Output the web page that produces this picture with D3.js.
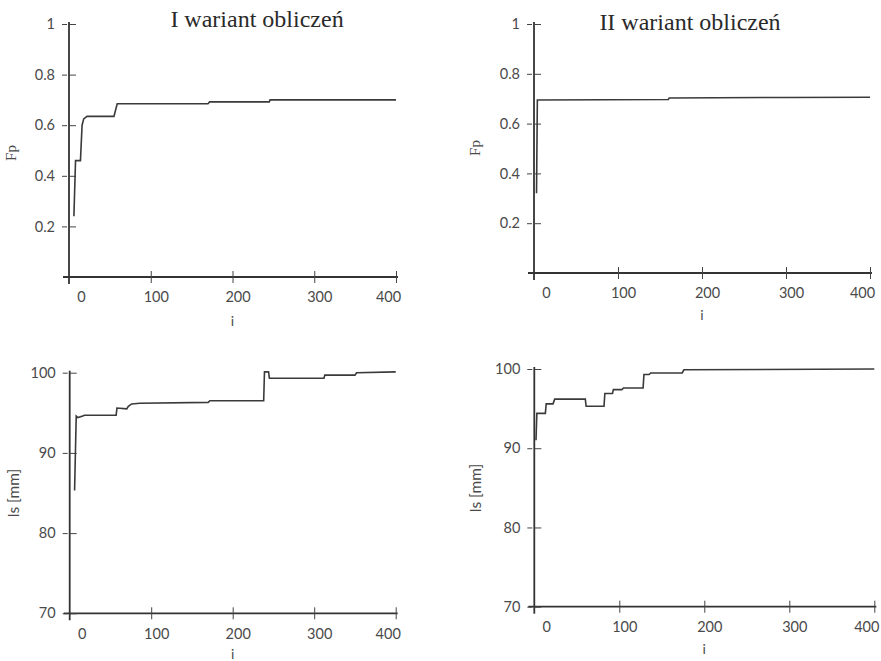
<!DOCTYPE html>
<html>
<head>
<meta charset="utf-8">
<script src="https://cdn.jsdelivr.net/npm/d3@7"></script>
<style>
  body { margin: 0; background: #fff; }
  text { font-family: Lato, "Open Sans", sans-serif; fill: #4a4a4a; }
  .title { font-family: "Liberation Serif", "Times New Roman", serif; fill: #2a2a2a; }
  .serif { font-family: "Liberation Serif", "Times New Roman", serif; }
</style>
</head>
<body>
<script>
// data: [i, value]
var fp1 = [[6, 0.24], [8, 0.46], [14, 0.46], [16, 0.60], [18, 0.625], [22, 0.635], [55, 0.635],
           [57, 0.66], [59, 0.685], [170, 0.685], [172, 0.692], [245, 0.692], [246, 0.70], [400, 0.70]];
var fp2 = [[3, 0.32], [4, 0.695], [160, 0.697], [161, 0.703], [300, 0.705], [400, 0.706]];
var ls1 = [[6, 85.3], [8, 94.6], [10, 94.4], [16, 94.6], [18, 94.7], [57, 94.7], [58, 95.6], [70, 95.5],
           [72, 95.8], [76, 96.1], [86, 96.2], [170, 96.3], [172, 96.5], [238, 96.5], [239, 100.1],
           [244, 100.1], [245, 99.3], [312, 99.3], [313, 99.7], [350, 99.7], [352, 100.0], [400, 100.1]];
var ls2 = [[2, 91.0], [3, 94.4], [13, 94.4], [14, 95.6], [22, 95.6], [24, 96.2], [60, 96.2], [61, 95.3],
           [82, 95.3], [83, 96.9], [92, 96.9], [93, 97.4], [103, 97.4], [105, 97.6], [128, 97.6],
           [129, 99.3], [135, 99.3], [137, 99.5], [174, 99.5], [176, 99.9], [400, 100.0]];

var xTicks = [0, 100, 200, 300, 400];
var fpTicks = [0.2, 0.4, 0.6, 0.8, 1];
var lsTicks = [70, 80, 90, 100];
var titles = ["I wariant obliczeń", "II wariant obliczeń"];

var w = 881, h = 661;

var svg = d3.select("body").append("svg")
    .attr("width", w)
    .attr("height", h);

// panel layout (pixels)
var panels = [
  { data: fp1, yDom: [0, 1], yTicks: fpTicks, yLab: "Fp", serif: true, l: 69, r: 396, b: 277, t: 24,
    labX: 13, labY: 153, iY: 322, title: titles[0], titleX: 257, titleY: 27 },
  { data: fp2, yDom: [0, 1], yTicks: fpTicks, yLab: "Fp", serif: true, l: 534, r: 870, b: 273, t: 24,
    labX: 477, labY: 148, iY: 316, title: titles[1], titleX: 690, titleY: 30 },
  { data: ls1, yDom: [70, 100], yTicks: lsTicks, yLab: "ls [mm]", l: 69.7, r: 395.7, b: 613.3, t: 372.7,
    labX: 15, labY: 493, iY: 655 },
  { data: ls2, yDom: [70, 100], yTicks: lsTicks, yLab: "ls [mm]", l: 534.3, r: 874.3, b: 606.7, t: 369,
    labX: 477, labY: 488, iY: 650 }
];

panels.forEach(function(p) {
  var x = d3.scaleLinear().domain([0, 400]).range([p.l, p.r]);
  var y = d3.scaleLinear().domain(p.yDom).range([p.b, p.t]);
  var g = svg.append("g");

  // axis lines
  g.append("line").attr("x1", p.l).attr("x2", p.l).attr("y1", p.t - 2).attr("y2", p.b + 7)
      .attr("stroke", "#333").attr("stroke-width", 1.8);
  g.append("line").attr("x1", p.l - 6).attr("x2", p.r + 2).attr("y1", p.b).attr("y2", p.b)
      .attr("stroke", "#333").attr("stroke-width", 1.8);

  // x axis: ticks cross the line
  var xa = g.append("g").attr("transform", "translate(0," + p.b + ")")
      .call(d3.axisBottom(x).tickValues(xTicks).tickSize(6).tickPadding(9));
  xa.select(".domain").remove();
  xa.selectAll(".tick line").attr("y1", -6).attr("y2", 6).attr("stroke", "#444")
      .attr("opacity", function(d) { return d === 0 ? 0 : 1; });
  xa.selectAll(".tick text").style("font-size", "14.5px").attr("fill", "#4a4a4a")
      .attr("dx", function(d, i) { return i === 0 ? 12 : (i === xTicks.length - 1 ? -8 : 5); });

  // y axis
  var ya = g.append("g").attr("transform", "translate(" + p.l + ",0)")
      .call(d3.axisLeft(y).tickValues(p.yTicks).tickSize(6).tickPadding(8)
        .tickFormat(function(d) { return String(d); }));
  ya.select(".domain").remove();
  ya.selectAll(".tick line").attr("x1", -7).attr("x2", 7).attr("stroke", "#444")
      .attr("stroke-dasharray", "5,2,7");
  ya.selectAll(".tick text").style("font-size", "14.5px").attr("fill", "#4a4a4a");

  // series
  var line = d3.line()
      .x(function(d) { return x(d[0]); })
      .y(function(d) { return y(d[1]); });
  g.append("path").datum(p.data)
      .attr("d", line)
      .attr("fill", "none")
      .attr("stroke", "#3a3a3a")
      .attr("stroke-width", 1.6);

  // labels
  g.append("text").attr("class", p.serif ? "serif" : null)
      .attr("transform", "translate(" + p.labX + "," + p.labY + ") rotate(-90)")
      .attr("text-anchor", "middle").attr("dominant-baseline", "middle")
      .style("font-size", p.serif ? "15px" : "15.5px").text(p.yLab);
  g.append("text").attr("x", (p.l + p.r) / 2).attr("y", p.iY)
      .attr("text-anchor", "middle").attr("dominant-baseline", "middle")
      .style("font-size", "14px").text("i");

  if (p.title) {
    g.append("text").attr("class", "title")
        .attr("x", p.titleX).attr("y", p.titleY)
        .attr("text-anchor", "middle")
        .style("font-size", "24px")
        .text(p.title);
  }
});
</script>
</body>
</html>
